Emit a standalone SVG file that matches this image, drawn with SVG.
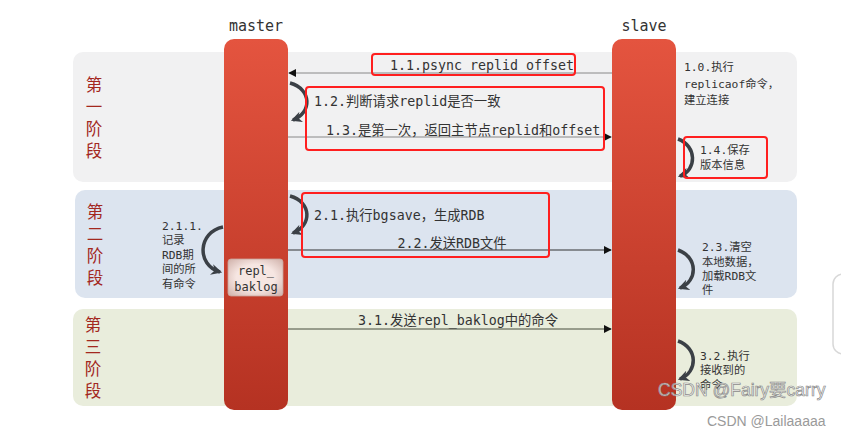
<svg xmlns="http://www.w3.org/2000/svg" width="841" height="436" viewBox="0 0 841 436">
<defs>
<linearGradient id="life" x1="0" y1="0" x2="0" y2="1">
<stop offset="0" stop-color="#e4543f"/>
<stop offset="1" stop-color="#b53222"/>
</linearGradient>
<radialGradient id="buf" cx="0.5" cy="0.5" r="0.7">
<stop offset="0.5" stop-color="#f6e6e2"/>
<stop offset="1" stop-color="#cfb0a9"/>
</radialGradient>
<marker id="tri" viewBox="0 0 10 10" refX="9" refY="5" markerWidth="8" markerHeight="8" markerUnits="userSpaceOnUse" orient="auto">
<path d="M0,0 L10,5 L0,10 z" fill="#111"/>
</marker>
<marker id="loophead" viewBox="0 0 10 10" refX="8" refY="5" markerWidth="11" markerHeight="11" markerUnits="userSpaceOnUse" orient="auto">
<path d="M0,0 L10,5 L0,10 L3,5 z" fill="#3b4046"/>
</marker>
<style>
.mono{font-family:"DejaVu Sans Mono","Noto Sans CJK SC",monospace;fill:#333}
.t13{font-size:13.3px}
.t11{font-size:11.3px}
.t12{font-size:12px}
.phase{font-family:"Noto Sans CJK SC","Noto Sans",sans-serif;font-size:16.5px;fill:#a3281e;text-anchor:middle}
.life{fill:url(#life)}
.loop{fill:none;stroke:#3b4046;stroke-width:3.5;marker-end:url(#loophead)}
.msg{stroke-width:1;fill:none;marker-end:url(#tri)}
.hl{fill:none;stroke:#ff1f1f;stroke-width:2}
</style>
</defs>
<rect width="841" height="436" fill="#ffffff"/>

<g id="panels">
<rect x="73" y="52" width="724" height="130" rx="10" fill="#f1f1f2"/>
<rect x="75" y="190" width="722" height="108" rx="10" fill="#dce4ef"/>
<rect x="73" y="309" width="724" height="97" rx="10" fill="#e9eddc"/>
</g>

<g id="phase1-label"><text class="phase"><tspan x="94" y="91">第</tspan><tspan x="94" y="113">一</tspan><tspan x="94" y="135">阶</tspan><tspan x="94" y="157">段</tspan></text></g>
<g id="phase2-label"><text class="phase"><tspan x="95" y="218">第</tspan><tspan x="95" y="240">二</tspan><tspan x="95" y="262">阶</tspan><tspan x="95" y="284">段</tspan></text></g>
<g id="phase3-label"><text class="phase"><tspan x="93" y="331">第</tspan><tspan x="93" y="353">三</tspan><tspan x="93" y="375">阶</tspan><tspan x="93" y="397">段</tspan></text></g>

<g id="master">
<text class="mono" x="256" y="31" font-size="15" text-anchor="middle">master</text>
<rect class="life" x="224" y="39" width="64" height="371" rx="10"/>
</g>
<g id="slave">
<text class="mono" x="644" y="31" font-size="15" text-anchor="middle">slave</text>
<rect class="life" x="612" y="39" width="64" height="371" rx="10"/>
</g>

<g id="repl_baklog">
<rect x="228" y="259" width="55" height="37" rx="3" fill="url(#buf)" stroke="#c9a49c" stroke-width="0.8"/>
<text class="mono t12" x="256" y="275" text-anchor="middle">repl_</text>
<text class="mono t12" x="256" y="291" text-anchor="middle">baklog</text>
</g>

<g id="connectors">
<line class="msg" x1="612" y1="73" x2="289" y2="73" stroke="#888"/>
<line class="msg" x1="288" y1="137" x2="611" y2="137" stroke="#888"/>
<line class="msg" x1="288" y1="250" x2="611" y2="250" stroke="#333"/>
<line class="msg" x1="288" y1="329" x2="611" y2="329" stroke="#474c3c"/>
<path class="loop" d="M290 83 C312 89 312 113 293 120"/>
<path class="loop" d="M290 196 C312 202 312 226 293 233"/>
<path class="loop" d="M678 139 C697 146 697 170 680 176"/>
<path class="loop" d="M678 250 C698 257 698 281 680 288"/>
<path class="loop" d="M678 341 C698 348 698 372 680 379"/>
<path class="loop" d="M223 227 C198 232 196 265 220 272"/>
</g>

<g id="labels">
<text class="mono t13" x="390" y="70">1.1.psync replid offset</text>
<text class="mono t13" x="314" y="106">1.2.判断请求replid是否一致</text>
<text class="mono t13" x="326" y="135">1.3.是第一次，返回主节点replid和offset</text>
<text class="mono t11"><tspan x="684" y="71">1.0.执行</tspan><tspan x="684" y="88">replicaof命令，</tspan><tspan x="684" y="104">建立连接</tspan></text>
<text class="mono t11"><tspan x="700" y="154">1.4.保存</tspan><tspan x="700" y="169">版本信息</tspan></text>
<text class="mono t13" x="314" y="220">2.1.执行bgsave，生成RDB</text>
<text class="mono t13" x="452" y="248" text-anchor="middle">2.2.发送RDB文件</text>
<text class="mono t11"><tspan x="162" y="230">2.1.1.</tspan><tspan x="162" y="244">记录</tspan><tspan x="162" y="259">RDB期</tspan><tspan x="162" y="273">间的所</tspan><tspan x="162" y="288">有命令</tspan></text>
<text class="mono t11"><tspan x="702" y="251">2.3.清空</tspan><tspan x="702" y="266">本地数据，</tspan><tspan x="702" y="280">加载RDB文</tspan><tspan x="702" y="294">件</tspan></text>
<text class="mono t13" x="458" y="325" text-anchor="middle">3.1.发送repl_baklog中的命令</text>
<text class="mono t11"><tspan x="700" y="360">3.2.执行</tspan><tspan x="700" y="374">接收到的</tspan><tspan x="700" y="389">命令</tspan></text>
</g>

<g id="highlights">
<rect class="hl" x="372" y="54" width="203" height="21" rx="3"/>
<rect class="hl" x="306" y="87" width="298" height="63" rx="3"/>
<rect class="hl" x="684" y="137" width="83" height="41" rx="3"/>
<rect class="hl" x="302" y="193" width="247" height="64" rx="3"/>
</g>

<rect x="833" y="274" width="24" height="80" rx="10" fill="#fff" stroke="#d8d8d8" stroke-width="1.5"/>

<g id="watermarks">
<text x="658" y="396" font-family="'Liberation Sans','Noto Sans CJK SC',sans-serif" font-size="17.5" fill="#ffffff" fill-opacity="0.7" stroke="#8a8a8a" stroke-width="0.7">CSDN @Fairy要carry</text>
<text x="707" y="426" font-family="'Liberation Sans',sans-serif" font-size="14" fill="#9a9a9a">CSDN @Lailaaaaa</text>
</g>
</svg>
